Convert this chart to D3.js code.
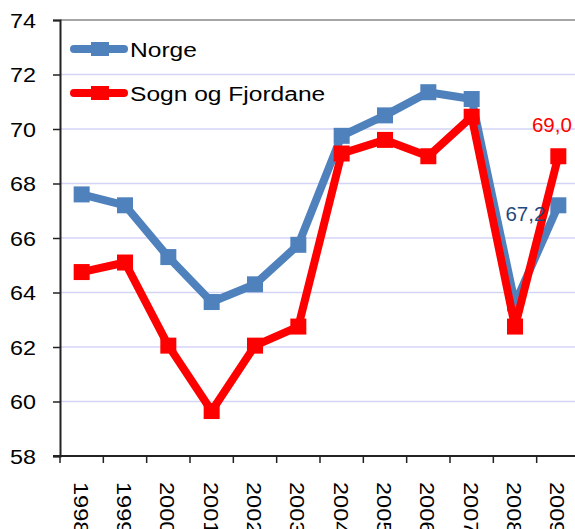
<!DOCTYPE html>
<meta charset="utf-8">
<script src="https://d3js.org/d3.v7.min.js"></script>
<style>
  body { margin: 0; background: #fff; }
  text { font-family: "Liberation Sans", Arial, sans-serif; }
</style>
<body>
<script>
var years = ["1998", "1999", "2000", "2001", "2002", "2003", "2004", "2005", "2006", "2007", "2008", "2009"];
var norge = [67.6, 67.2, 65.3, 63.65, 64.3, 65.75, 69.75, 70.5, 71.35, 71.1, 63.6, 67.2];
var sogn = [64.75, 65.1, 62.05, 59.65, 62.05, 62.75, 69.1, 69.6, 69.0, 70.45, 62.75, 69.0];
var yTicks = [58, 60, 62, 64, 66, 68, 70, 72, 74];

var width = 575, height = 529;
var margin = {top: 20, right: -5, bottom: 73, left: 60};

var svg = d3.select("body").append("svg")
    .attr("width", width)
    .attr("height", height);

var x = d3.scaleBand()
    .domain(years)
    .range([margin.left, width - margin.right]);

var y = d3.scaleLinear()
    .domain([58, 74])
    .range([height - margin.bottom, margin.top]);

var cx = (d, i) => x(years[i]) + x.bandwidth() / 2;

// gridlines
svg.append("g").selectAll("line")
    .data(yTicks.slice(1))
    .enter().append("line")
    .attr("x1", margin.left)
    .attr("x2", width)
    .attr("y1", d => y(d))
    .attr("y2", d => y(d))
    .attr("stroke", d => d == 74 ? "#888" : "#d4d4f7")
    .attr("stroke-width", 1.5);

// y axis
var yAxis = svg.append("g")
    .attr("transform", "translate(" + margin.left + ",0)")
    .call(d3.axisLeft(y).tickValues(yTicks).tickSize(7).tickFormat(""));
yAxis.select(".domain").attr("stroke", "#222").attr("stroke-width", 2);
yAxis.selectAll(".tick line").attr("stroke", "#222").attr("stroke-width", 1.5);

svg.append("g").selectAll("text")
    .data(yTicks)
    .enter().append("text")
    .attr("transform", d => "translate(36," + y(d) + ") scale(1.11,1)")
    .attr("dy", "0.36em")
    .attr("text-anchor", "end")
    .attr("font-size", 21)
    .attr("fill", "#000")
    .text(d => d);

// x axis
var xAxis = svg.append("g")
    .attr("transform", "translate(0," + y(58) + ")");
xAxis.append("line")
    .attr("x1", margin.left - 7).attr("x2", width)
    .attr("stroke", "#222").attr("stroke-width", 2);
xAxis.selectAll(".xt")
    .data(years)
    .enter().append("line")
    .attr("x1", d => x(d)).attr("x2", d => x(d))
    .attr("y1", 0).attr("y2", 7)
    .attr("stroke", "#222").attr("stroke-width", 1.5);
xAxis.selectAll(".xl")
    .data(years)
    .enter().append("text")
    .attr("transform", d => "translate(" + (x(d) + x.bandwidth() / 2 - 8) + ",26) rotate(90) scale(1.12,1)")
    .attr("font-size", 21)
    .attr("fill", "#000")
    .text(d => d);

var line = d3.line()
    .x(cx)
    .y(d => y(d));

var series = [
    {name: "Norge", values: norge, color: "#4f81bd"},
    {name: "Sogn og Fjordane", values: sogn, color: "#ff0000"}
];

series.forEach(function (s) {
    svg.append("path")
        .datum(s.values)
        .attr("d", line)
        .attr("fill", "none")
        .attr("stroke", s.color)
        .attr("stroke-width", 8)
        .attr("stroke-linejoin", "round");
    svg.append("g").selectAll("rect")
        .data(s.values)
        .enter().append("rect")
        .attr("x", (d, i) => cx(d, i) - 8)
        .attr("y", d => y(d) - 8)
        .attr("width", 16)
        .attr("height", 16)
        .attr("fill", s.color);
});

// value labels
var last = years.length - 1;
svg.append("text")
    .attr("transform", "translate(" + (cx(0, last) - 13) + "," + (y(norge[last]) + 16) + ") scale(1.05,1)")
    .attr("text-anchor", "end")
    .attr("font-size", 19.5)
    .attr("fill", "#1f497d")
    .text("67,2");
svg.append("text")
    .attr("transform", "translate(" + (cx(0, last) + 13.5) + "," + (y(sogn[last]) - 24) + ") scale(1.05,1)")
    .attr("text-anchor", "end")
    .attr("font-size", 19.5)
    .attr("fill", "#ff0000")
    .text("69,0");

// legend
var legend = svg.append("g").attr("transform", "translate(70,49)");
series.forEach(function (s, i) {
    var g = legend.append("g").attr("transform", "translate(0," + i * 44 + ")");
    g.append("line")
        .attr("x1", 4).attr("x2", 54)
        .attr("stroke", s.color)
        .attr("stroke-width", 8)
        .attr("stroke-linecap", "round");
    g.append("rect")
        .attr("x", 21).attr("y", -7)
        .attr("width", 18).attr("height", 14)
        .attr("fill", s.color);
    g.append("text")
        .attr("transform", "translate(60,8) scale(1.17,1)")
        .attr("font-size", 21)
        .attr("fill", "#000")
        .text(s.name);
});
</script>
</body>
